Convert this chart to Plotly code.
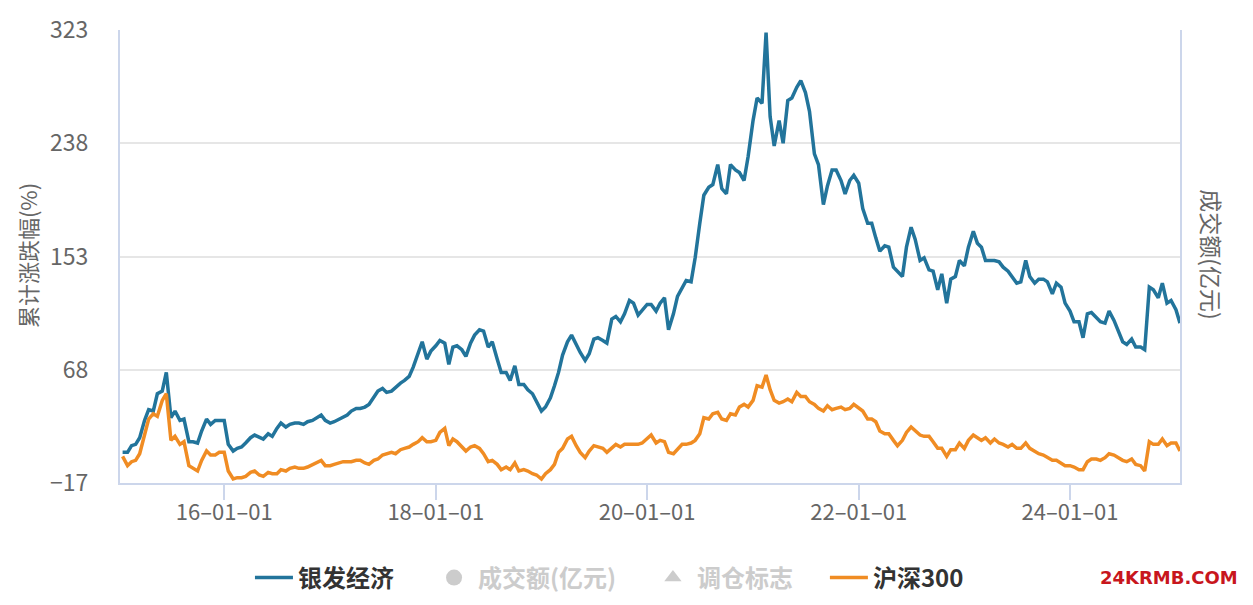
import pandas as pd
import plotly.graph_objects as go

# semi-monthly dates, 2015-01-15 .. 2025-01-15
dates = pd.date_range("2015-01-01", "2025-01-31", freq="SMS")
dates = dates[(dates >= "2015-01-15") & (dates <= "2025-01-15")]

yinfa = [
    6, 6, 11, 12, 17, 30, 38, 37, 50, 52,
    66, 32, 37, 30, 31, 14, 14, 13, 22, 31,
    27, 30, 30, 30, 12, 7, 9, 10, 13, 17,
    19, 17, 16, 20, 18, 24, 28, 25, 27, 28,
    28, 27, 29, 30, 32, 34, 30, 28, 29, 31,
    32, 34, 37, 39, 39, 40, 42, 47, 52, 54,
    51, 52, 55, 58, 60, 63, 70, 80, 89, 76,
    82, 86, 90, 88, 72, 85, 86, 83, 78, 88,
    94, 98, 97, 85, 89, 76, 66, 66, 60, 71,
    57, 57, 53, 50, 44, 37, 40, 47, 56, 66,
    79, 89, 94, 87, 81, 75, 80, 91, 92, 90,
    88, 106, 108, 104, 110, 120, 118, 109, 113, 117,
    117, 112, 118, 122, 98, 110, 123, 130, 135, 134,
    152, 178, 199, 205, 207, 222, 204, 200, 222, 218,
    216, 210, 228, 255, 272, 268, 321, 258, 236, 255,
    238, 270, 272, 280, 285, 276, 262, 230, 222, 192,
    206, 218, 218, 210, 200, 210, 214, 208, 189, 178,
    178, 167, 157, 161, 160, 145, 142, 138, 160, 175,
    166, 150, 152, 143, 142, 128, 140, 118, 136, 138,
    150, 146, 160, 172, 163, 160, 150, 150, 150, 149,
    145, 142, 138, 133, 134, 150, 138, 133, 136, 136,
    134, 125, 133, 130, 118, 112, 104, 104, 92, 110,
    111, 107, 104, 103, 112, 105, 98, 89, 87, 91,
    85, 85, 83, 130, 128, 122, 133, 118, 120, 113,
    103,
]

hs300 = [
    3, -4, -1, 0, 5, 18, 31, 35, 33, 45,
    50, 15, 18, 12, 14, -4, -6, -8, 0, 7,
    4, 4, 6, 6, -8, -14, -13, -13, -12, -9,
    -8, -11, -12, -9, -10, -10, -7, -8, -6, -5,
    -6, -6, -5, -3, -2, 0, -4, -4, -3, -2,
    -1, -1, -1, 0, 0, -2, -3, 0, 1, 4,
    5, 6, 5, 8, 9, 10, 12, 14, 17, 14,
    14, 15, 21, 24, 11, 16, 14, 10, 7, 10,
    11, 9, 5, -1, 0, -3, -7, -5, -7, -2,
    -8, -7, -8, -10, -11, -14, -10, -7, -3, 6,
    9, 16, 18, 11, 6, 2, 7, 11, 10, 9,
    6, 9, 12, 10, 12, 12, 12, 12, 13, 16,
    19, 13, 15, 14, 6, 5, 8, 12, 12, 13,
    15, 20, 32, 31, 35, 36, 31, 30, 35, 34,
    40, 42, 40, 45, 56, 55, 64, 53, 45, 43,
    44, 46, 44, 51, 48, 48, 44, 42, 39, 37,
    41, 38, 39, 40, 38, 39, 42, 39, 37, 31,
    31, 29, 22, 20, 20, 15, 11, 15, 21, 25,
    22, 19, 18, 18, 14, 9, 9, 3, 8, 8,
    13, 9, 15, 19, 17, 15, 17, 13, 16, 13,
    12, 10, 12, 9, 9, 13, 9, 7, 5, 4,
    2, 0, 0, -2, -4, -4, -5, -7, -7, -1,
    1, 1, 0, 2, 5, 4, 2, 0, -1, 1,
    -3, -4, -8, 14, 12, 12, 16, 11, 13, 13,
    7,
]

y_ticks = [-17, 68, 153, 238, 323]
x_ticks = ["2016-01-01", "2018-01-01", "2020-01-01", "2022-01-01", "2024-01-01"]

BLUE = "#22749b"
ORANGE = "#f08c23"
GREY = "#cccccc"
AXIS = "#ccd6eb"
CJK = "Noto Sans CJK SC"

fig = go.Figure()
fig.add_trace(go.Scatter(x=dates, y=yinfa, name="银发经济", mode="lines",
                         line=dict(color=BLUE, width=3.5), legend="legend"))
fig.add_trace(go.Scatter(x=[None], y=[None], mode="markers",
                         name=f"<span style='color:{GREY}'>成交额(亿元)</span>",
                         marker=dict(symbol="circle", size=16, color=GREY), legend="legend2"))
fig.add_trace(go.Scatter(x=[None], y=[None], mode="markers",
                         name=f"<span style='color:{GREY}'>调仓标志</span>",
                         marker=dict(symbol="triangle-up", size=15, color=GREY), legend="legend3"))
fig.add_trace(go.Scatter(x=dates, y=hs300, name="沪深300", mode="lines",
                         line=dict(color=ORANGE, width=3.5), legend="legend4"))

# one legend box per entry so each can sit where the original has it
leg_font = dict(family=CJK, size=24, color="#333333", weight="bold")
leg_y = -0.2097
legends = {}
for key, xpos in [("legend", 0.1226), ("legend2", 0.2925), ("legend3", 0.499), ("legend4", 0.665)]:
    legends[key] = dict(x=xpos, xanchor="left", y=leg_y, yanchor="middle",
                        orientation="h", font=leg_font, itemwidth=38,
                        bgcolor="rgba(0,0,0,0)")

# the page body adds an 8px offset, margins are shifted to compensate
fig.update_layout(
    width=1253, height=605,
    margin=dict(l=112, r=81, t=22, b=130),
    plot_bgcolor="white", paper_bgcolor="white",
    font=dict(family=CJK, color="#666666", size=20),
    showlegend=True,
    **legends,
    annotations=[
        dict(text="累计涨跌幅(%)", x=-0.0878, y=0.503, xref="paper", yref="paper",
             xanchor="center", yanchor="middle", textangle=-90, showarrow=False,
             font=dict(family=CJK, size=22, color="#666666")),
        dict(text="成交额(亿元)", x=1.030, y=0.503, xref="paper", yref="paper",
             xanchor="center", yanchor="middle", textangle=90, showarrow=False,
             font=dict(family=CJK, size=23, color="#666666")),
        dict(text="<b>24KRMB.COM</b>", x=1.057, y=leg_y, xref="paper", yref="paper",
             xanchor="right", yanchor="middle", showarrow=False,
             font=dict(family="DejaVu Sans", size=18, color="#c8161d")),
    ],
)

fig.update_xaxes(type="date", range=["2015-01-06", "2025-01-15"],
                 tickvals=x_ticks, tickformat="%y–%m–%d",
                 showgrid=False, showline=True, linecolor=AXIS, linewidth=2,
                 ticks="outside", ticklen=15, tickcolor=AXIS, tickwidth=2,
                 ticklabelstandoff=-6, automargin=False,
                 tickfont=dict(family=CJK, size=22, color="#666666"))
fig.update_yaxes(range=[-17, 323], tickvals=y_ticks,
                 showgrid=True, gridcolor="#e6e6e6", gridwidth=2,
                 zeroline=False, showline=True, linecolor=AXIS, linewidth=2, mirror=True,
                 ticks="", ticklabelstandoff=25, automargin=False,
                 tickfont=dict(family=CJK, size=23, color="#666666"))

fig.write_html("out.html")
